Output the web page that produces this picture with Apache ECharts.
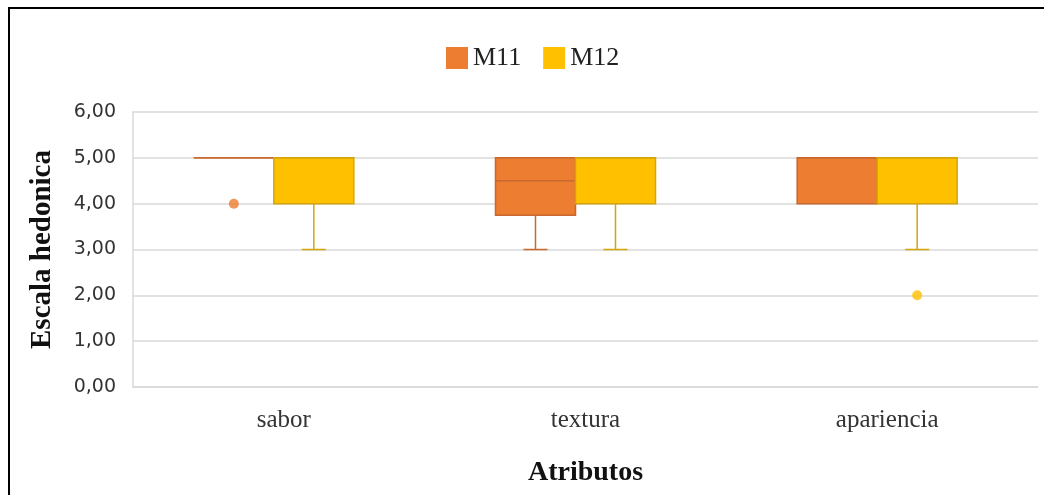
<!DOCTYPE html>
<html>
<head>
<meta charset="utf-8">
<title>Escala hedonica</title>
<script src="https://cdn.jsdelivr.net/npm/echarts@6/dist/echarts.min.js"></script>
<style>
  html, body { margin: 0; padding: 0; background: #fff; }
  #main { width: 1044px; height: 495px; }
</style>
</head>
<body>
<div id="main"></div>
<script>
// categories and box stats: [min, Q1, median, Q3, max]
var categories = ['sabor', 'textura', 'apariencia'];
var m11Boxes = [
  [5, 5, 5, 5, 5],
  [3, 3.75, 4.5, 5, 5],
  [4, 4, 5, 5, 5]
];
var m12Boxes = [
  [3, 4, 5, 5, 5],
  [3, 4, 5, 5, 5],
  [3, 4, 5, 5, 5]
];
// outliers: [category index, value]
var m11Outliers = [[0, 4]];
var m12Outliers = [[2, 2]];
var yTicks = [0, 1, 2, 3, 4, 5, 6];

var BOX_W = 80;
var CAP_W = 24;

function toRows(boxes) {
  var rows = [];
  for (var i = 0; i < boxes.length; i++) {
    rows.push([i].concat(boxes[i]));
  }
  return rows;
}

function boxRenderer(offset, fill, stroke) {
  return function (params, api) {
    var cat = api.value(0);
    var pMin = api.coord([cat, api.value(1)]);
    var pQ1 = api.coord([cat, api.value(2)]);
    var pMed = api.coord([cat, api.value(3)]);
    var pQ3 = api.coord([cat, api.value(4)]);
    var pMax = api.coord([cat, api.value(5)]);
    var cx = pMin[0] + offset;
    var x0 = cx - BOX_W / 2;
    var lineStyle = { stroke: stroke, lineWidth: 1.5 };
    var children = [];
    // whiskers
    children.push({ type: 'line', shape: { x1: cx, y1: pMin[1], x2: cx, y2: pQ1[1] }, style: lineStyle });
    children.push({ type: 'line', shape: { x1: cx, y1: pQ3[1], x2: cx, y2: pMax[1] }, style: lineStyle });
    if (pMin[1] !== pQ1[1]) {
      children.push({ type: 'line', shape: { x1: cx - CAP_W / 2, y1: pMin[1], x2: cx + CAP_W / 2, y2: pMin[1] }, style: lineStyle });
    }
    if (pMax[1] !== pQ3[1]) {
      children.push({ type: 'line', shape: { x1: cx - CAP_W / 2, y1: pMax[1], x2: cx + CAP_W / 2, y2: pMax[1] }, style: lineStyle });
    }
    // box
    children.push({
      type: 'rect',
      shape: { x: x0, y: pQ3[1], width: BOX_W, height: pQ1[1] - pQ3[1] },
      style: { fill: fill, stroke: stroke, lineWidth: 1.5 }
    });
    // median
    children.push({ type: 'line', shape: { x1: x0, y1: pMed[1], x2: x0 + BOX_W, y2: pMed[1] }, style: lineStyle });
    return { type: 'group', children: children };
  };
}

var myChart = echarts.init(document.getElementById('main'));
var option = {
  animation: false,
  backgroundColor: '#fff',
  graphic: [{
    type: 'rect',
    shape: { x: 9, y: 8, width: 1200, height: 700 },
    style: { fill: 'none', stroke: '#000', lineWidth: 2 },
    silent: true
  }],
  legend: {
    top: 40,
    left: 441,
    itemWidth: 22,
    itemHeight: 22,
    itemGap: 22,
    icon: 'rect',
    data: ['M11', 'M12'],
    textStyle: { fontFamily: 'Liberation Serif', fontSize: 26, color: '#222' }
  },
  grid: { left: 133, right: 6, top: 112, bottom: 108 },
  xAxis: {
    type: 'category',
    data: categories,
    name: 'Atributos',
    nameLocation: 'middle',
    nameGap: 72,
    nameTextStyle: { fontFamily: 'Liberation Serif', fontSize: 28, fontWeight: 'bold', color: '#111' },
    axisLine: { lineStyle: { color: '#d9d9d9', width: 1.5 } },
    axisTick: { show: false },
    axisLabel: { margin: 21, fontFamily: 'Liberation Serif', fontSize: 25, color: '#333' },
    splitLine: { show: false }
  },
  yAxis: {
    type: 'value',
    min: yTicks[0],
    max: yTicks[yTicks.length - 1],
    interval: 1,
    name: 'Escala hedonica',
    nameLocation: 'middle',
    nameRotate: 90,
    nameGap: 76,
    nameTextStyle: { fontFamily: 'Liberation Serif', fontSize: 29, fontWeight: 'bold', color: '#111' },
    axisLine: { show: true, lineStyle: { color: '#d9d9d9', width: 1.5 } },
    axisTick: { show: false },
    axisLabel: {
      margin: 17,
      fontFamily: 'DejaVu Sans',
      fontSize: 19,
      color: '#333',
      formatter: function (v) { return v.toFixed(2).replace('.', ','); }
    },
    splitLine: { lineStyle: { color: '#d9d9d9', width: 1.5 } }
  },
  series: [{
    name: 'M11',
    type: 'custom',
    itemStyle: { color: '#ED7D31', borderColor: '#C8682E' },
    encode: { x: 0, y: [1, 2, 3, 4, 5] },
    data: toRows(m11Boxes),
    renderItem: boxRenderer(-50, '#ED7D31', '#C8682E'),
    z: 2
  }, {
    name: 'M12',
    type: 'custom',
    itemStyle: { color: '#FFC000', borderColor: '#D4A50A' },
    encode: { x: 0, y: [1, 2, 3, 4, 5] },
    data: toRows(m12Boxes),
    renderItem: boxRenderer(30, '#FFC000', '#D4A50A'),
    z: 3
  }, {
    name: 'M11',
    type: 'scatter',
    symbolSize: 10,
    symbolOffset: [-50, 0],
    itemStyle: { color: '#ED7D31' },
    data: m11Outliers,
    z: 4
  }, {
    name: 'M12',
    type: 'scatter',
    symbolSize: 10,
    symbolOffset: [30, 0],
    itemStyle: { color: '#FFC000' },
    data: m12Outliers,
    z: 4
  }]
};
myChart.setOption(option);
</script>
</body>
</html>
